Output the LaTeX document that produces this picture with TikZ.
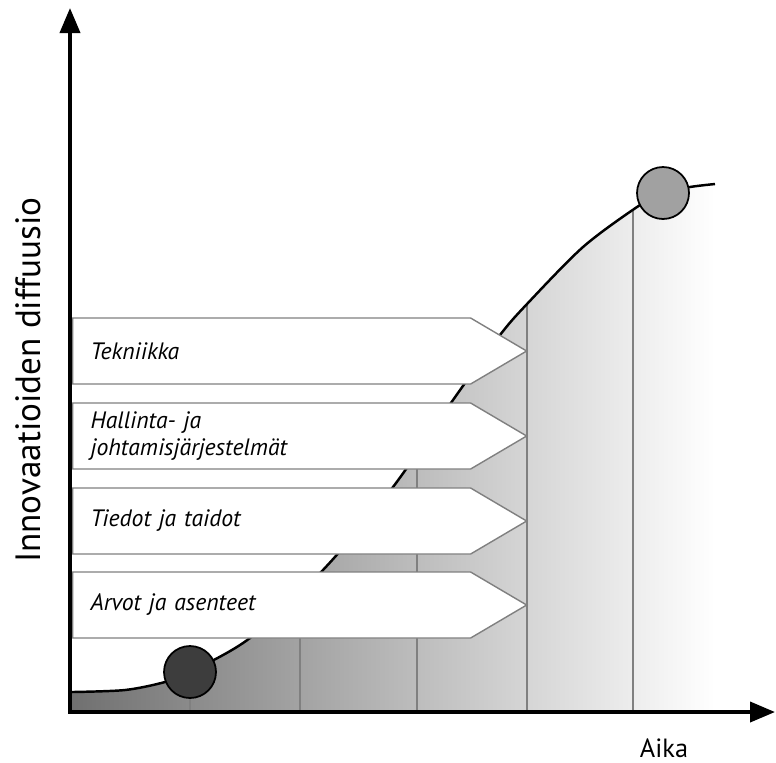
\documentclass[tikz,border=0pt]{standalone}
\usepackage{fontspec}
\setmainfont{PT Sans}
\usetikzlibrary{positioning}
\usetikzlibrary{shapes.symbols}
\usetikzlibrary{arrows.meta}

\tikzset{
    nuoli/.style={signal, signal to=east, signal pointer angle=61, draw=black!50, line width=0.8pt,
                  fill=white, minimum height=1.32cm, text width=7.24cm, inner xsep=0.36cm, inner ysep=0pt,
                  align=left, anchor=west, text=black, font=\fontsize{13.5}{15}\selectfont\itshape},
    akseli/.style={line width=2.2pt, line cap=rect, arrows=-{Triangle[length=0.5cm,width=0.4cm]}},
    pallo/.style={circle, draw, line width=1pt, minimum size=1.04cm, inner sep=0pt},
    raja/.style={draw=black!50, line width=0.7pt}
}

\begin{document}
\begin{tikzpicture}[x=0.02cm, y=-0.02cm]

            % \draw [help lines] (0,0) grid (776,762);
            \useasboundingbox (0,0) rectangle (776,762);

            \begin{scope}
                \clip (72,712) -- plot[smooth] coordinates {(72,692) (125,690) (165,682) (190,672) (250,638) (323,570) (393,487) (453,400) (500,335) (527,304) (583,247) (637,207) (663,193) (690,187) (715,184)} -- (715,712) -- cycle;
                \fill[left color=black!56, right color=white] (72,150) rectangle (715,712);
                \foreach \x in {190,300,417,527,633}
                    \draw[raja] (\x,712) -- (\x,150);
            \end{scope}

            \draw[line width=1.4pt] plot[smooth] coordinates {(72,692) (125,690) (165,682) (190,672) (250,638) (323,570) (393,487) (453,400) (500,335) (527,304) (583,247) (637,207) (663,193) (690,187) (715,184)};

            \path   (72,351) node (tek) [nuoli] {Tekniikka}
                    (72,436) node (hal) [nuoli] {Hallinta- ja\\johtamisjärjestelmät}
                    (72,521) node (tie) [nuoli] {Tiedot ja taidot}
                    (72,605) node (arv) [nuoli] {Arvot ja asenteet};

            \path   (190,672) node (alku) [pallo, fill=black!76] {}
                    (663,193) node (loppu) [pallo, fill=black!37] {};

            \coordinate (origo) at (70,712);
            \coordinate (ykarki) at (70,8);
            \coordinate (xkarki) at (775,712);
            \draw[akseli] (origo) -- (ykarki);
            \draw[akseli] (origo) -- (xkarki);

            \path   (28,380) node (ynimi) [rotate=90, font=\fontsize{20}{23}\selectfont] {Innovaatioiden diffuusio}
                    (664,748) node (xnimi) [font=\fontsize{15}{18}\selectfont] {Aika};

\end{tikzpicture}
\end{document}
